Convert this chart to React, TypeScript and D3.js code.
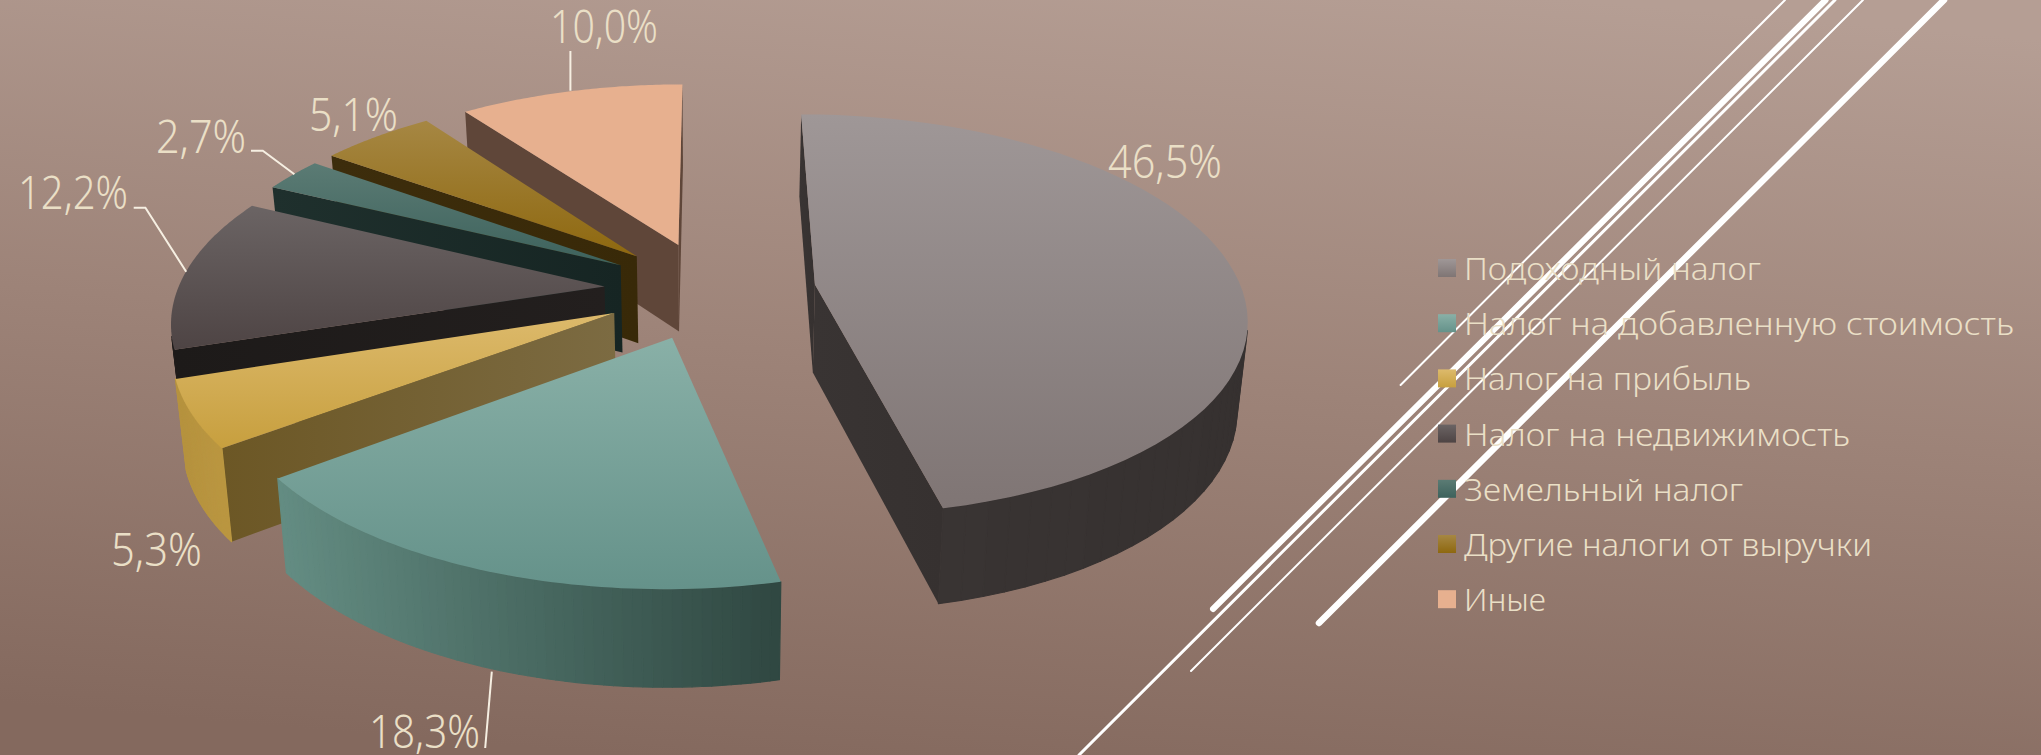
import React from "react";
import * as d3 from "d3";

// ---- data ----
const categories = [
  "Подоходный налог",
  "Налог на добавленную стоимость",
  "Налог на прибыль",
  "Налог на недвижимость",
  "Земельный налог",
  "Другие налоги от выручки",
  "Иные",
];
const values = [46.5, 18.3, 5.3, 12.2, 2.7, 5.1, 10.0];
const valueLabels = ["46,5%", "18,3%", "5,3%", "12,2%", "2,7%", "5,1%", "10,0%"];

// ---- styles ----
const topColors = [
  ["#9f9797", "#7f7574"],
  ["#89b0a7", "#65928a"],
  ["#ddba6c", "#c79f3e"],
  ["#6b6464", "#4e4444"],
  ["#5b7b74", "#3d625c"],
  ["#a68743", "#8e680f"],
  ["#e7b08f", "#e7b08f"],
];
const arcWallColors = [
  ["#393433", "#363130"],
  ["#648d83", "#2f4741"],
  ["#b5923f", "#bb9740"],
  ["#221e1d", "#1d1a19"],
  ["#22332f", "#182725"],
  ["#3b2b0b", "#3b2b0b"],
  ["#5f4639", "#5f4639"],
];
const radialWallColors = [
  ["#393433", "#363130"],
  ["#3a5a52", "#3a5a52"],
  ["#6c5725", "#7c6b42"],
  ["#1d1a19", "#231f1e"],
  ["#1f302d", "#162523"],
  ["#3d2d0c", "#382908"],
  ["#5f4639", "#5f4639"],
];
const legendLayout = { swatchX: 1438, firstY: 259, stepY: 55.2, size: 18, textX: 1464, fontSize: 30.5 };
const legendWidths = [297, 550, 287, 386, 279, 408, 82];
const labelBoxes = [
  { x: 1108, y: 178, w: 114 },
  { x: 369, y: 748, w: 111 },
  { x: 111, y: 566, w: 91 },
  { x: 18, y: 209, w: 110 },
  { x: 156, y: 153, w: 90 },
  { x: 309, y: 131, w: 89 },
  { x: 550, y: 43, w: 108 },
];
const leaders: ([number, number][] | null)[] = [
  null,
  [[491.8, 671.7], [485.2, 748]],
  null,
  [[133.7, 207.7], [145.4, 207.7], [186.2, 271.7]],
  [[251, 150.7], [262.8, 150.7], [294.4, 174.3]],
  null,
  [[570.4, 51], [570.4, 90.7]],
];
const decoLines = [
  { a: [1785, 0], b: [1400.6, 385], w: 2 },
  { a: [1825.6, 0], b: [1213, 609], w: 6 },
  { a: [1835, 0], b: [1079, 755], w: 3 },
  { a: [1863, 0], b: [1191, 671], w: 2 },
  { a: [1944, 0], b: [1319, 623], w: 6.5 },
];

// ---- perspective model of the pie ----
const R = 427;
const EXPLODE = 106;
const D = 2825;
const CX = 710;
type P = [number, number];
const project = (X: number, Y: number, bottom: boolean): P => {
  const s = D / (D - Y);
  return bottom ? [CX + X * s * 0.98, -972 + 1350 * s] : [CX + X * s, -1016 + 1306 * s];
};

const pie = d3.pie<number>().sort(null).value((d) => d);
const arcs = pie(values);
const lineGen = d3.line<P>().curve(d3.curveLinear);

const polar = (a: number, r: number, m: number): P => [
  r * Math.sin(a) + EXPLODE * Math.sin(m),
  -r * Math.cos(a) - EXPLODE * Math.cos(m),
];

const slices = arcs.map((arc, i) => {
  const m = (arc.startAngle + arc.endAngle) / 2;
  const angles = d3.range(0, 61).map((k) => arc.startAngle + ((arc.endAngle - arc.startAngle) * k) / 60);
  const rim = angles.map((a) => polar(a, R, m));
  const apex = polar(0, 0, m);
  const up = (p: P) => project(p[0], p[1], false);
  const dn = (p: P) => project(p[0], p[1], true);
  const top = lineGen([apex, ...rim].map(up)) + "Z";
  // wall facets: only those that face the camera
  const quads = d3
    .pairs(rim)
    .map(([a, b]) => [up(a), up(b), dn(b), dn(a)] as P[])
    .filter((q) => d3.polygonArea(q) > 0);
  const xs = quads.flatMap((q) => q.map((p) => p[0]));
  const xScale = d3.scaleLinear().domain(d3.extent(xs) as [number, number]).range([0, 1]);
  const colorAt = d3.interpolateRgb(arcWallColors[i][0], arcWallColors[i][1]);
  const facets = quads.map((q) => {
    const fill = colorAt(xScale(d3.mean(q, (p) => p[0]) as number));
    return { d: lineGen(q) + "Z", fill };
  });
  const startWall = [up(apex), up(rim[0]), dn(rim[0]), dn(apex)] as P[];
  const endWall = [up(apex), up(rim[rim.length - 1]), dn(rim[rim.length - 1]), dn(apex)] as P[];
  return {
    i,
    top,
    facets,
    start: d3.polygonArea(startWall) > 0 ? lineGen(startWall) + "Z" : null,
    end: d3.polygonArea(endWall) < 0 ? lineGen(endWall) + "Z" : null,
  };
});
const paintOrder = [6, 5, 4, 3, 2, 1, 0];

const Grad = ({ id, c, horizontal }: { id: string; c: string[]; horizontal?: boolean }) => (
  <linearGradient id={id} x1="0" y1="0" x2={horizontal ? 1 : 0} y2={horizontal ? 0 : 1}>
    <stop offset="0" stopColor={c[0]} />
    <stop offset="1" stopColor={c[1]} />
  </linearGradient>
);

const TEXT = "#eadfc6";
const FONT = "'Noto Sans', Lato, sans-serif";

export default function App() {
  return (
    <svg
      width={2041}
      height={755}
      viewBox="0 0 2041 755"
      style={{ position: "absolute", left: 0, top: 0, display: "block" }}
    >
      <defs>
        <linearGradient id="bg" gradientUnits="userSpaceOnUse" x1="1100" y1="-40" x2="1030" y2="790">
          <stop offset="0" stopColor="#b59e94" />
          <stop offset="0.5" stopColor="#9d8378" />
          <stop offset="1" stopColor="#84695e" />
        </linearGradient>
        {values.map((_, i) => (
          <React.Fragment key={i}>
            <Grad id={`top${i}`} c={topColors[i]} />
            <Grad id={`rad${i}`} c={radialWallColors[i]} horizontal />
          </React.Fragment>
        ))}
      </defs>
      <rect width={2041} height={755} fill="url(#bg)" />
      {decoLines.map((l, i) => (
        <line key={i} x1={l.a[0]} y1={l.a[1]} x2={l.b[0]} y2={l.b[1]} stroke="#fff" strokeWidth={l.w} strokeLinecap="round" />
      ))}
      {paintOrder.map((i) => {
        const s = slices[i];
        return (
          <g key={i}>
            {s.end ? <path d={s.end} fill={`url(#rad${i})`} /> : null}
            {s.start ? <path d={s.start} fill={`url(#rad${i})`} /> : null}
            {s.facets.map((f, k) => (
              <path key={k} d={f.d} fill={f.fill} stroke={f.fill} strokeWidth={1.2} strokeLinejoin="round" />
            ))}
            <path d={s.top} fill={`url(#top${i})`} />
          </g>
        );
      })}
      {leaders.map((pts, i) =>
        pts ? <path key={i} d={lineGen(pts) as string} fill="none" stroke="#f6efe2" strokeWidth={2} /> : null
      )}
      {valueLabels.map((t, i) => (
        <text
          key={i}
          x={labelBoxes[i].x}
          y={labelBoxes[i].y}
          textLength={labelBoxes[i].w}
          lengthAdjust="spacingAndGlyphs"
          fontFamily={FONT}
          fontWeight={300}
          fontSize={46}
          fill={TEXT}
        >
          {t}
        </text>
      ))}
      {categories.map((c, i) => {
        const y = legendLayout.firstY + i * legendLayout.stepY;
        return (
          <g key={i}>
            <rect x={legendLayout.swatchX} y={y} width={legendLayout.size} height={legendLayout.size} fill={`url(#top${i})`} />
            <text
              x={legendLayout.textX}
              y={y + 21}
              textLength={legendWidths[i]}
              lengthAdjust="spacingAndGlyphs"
              fontFamily={FONT}
              fontWeight={300}
              fontSize={legendLayout.fontSize}
              fill={TEXT}
            >
              {c}
            </text>
          </g>
        );
      })}
    </svg>
  );
}
